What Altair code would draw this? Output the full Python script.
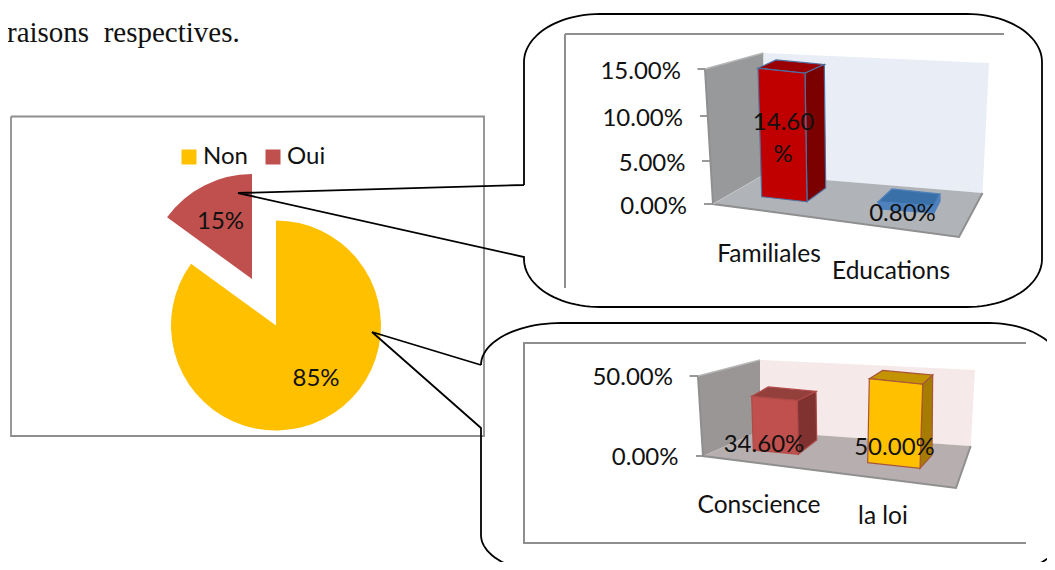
import math
import altair as alt
import pandas as pd

# ---- data ----
pie_categories = ["Non", "Oui"]
pie_values = [85, 15]
pie_labels = ["85%", "15%"]
family_categories = ["Familiales", "Educations"]
family_values = [14.60, 0.80]
reason_categories = ["Conscience", "la loi"]
reason_values = [34.60, 50.00]
family_ticks = ["15.00%", "10.00%", "5.00%", "0.00%"]
reason_ticks = ["50.00%", "0.00%"]
intro_text = "raisons\u00a0\u00a0respectives."

# ---- layout: image pixel space; the page margin is 8px so the canvas spans 8..1047 by 8..562 ----
X0, X1, Y0, Y1 = 8, 1047, 8, 562
XS = alt.Scale(domain=[X0, X1], range=[0, X1 - X0], nice=False, zero=False)
X = alt.X("x:Q", axis=None, scale=XS)
Y = alt.Y("y:Q", axis=None, scale=alt.Scale(domain=[Y1, Y0], range=[Y1 - Y0, 0], nice=False, zero=False))
FONT = "Lato"
FS = 24
INK = "#111111"
GRAY = "#8e8e8e"
layers = []


def polygon(vertices, fill, stroke=None, width=1.2):
    xs = sorted({round(v[0], 3) for v in vertices})
    n = len(vertices)
    rows = []
    for x in xs:
        ys = []
        for i in range(n):
            (x1, y1), (x2, y2) = vertices[i], vertices[(i + 1) % n]
            lo, hi = min(x1, x2), max(x1, x2)
            if lo - 1e-3 <= x <= hi + 1e-3:
                if abs(x2 - x1) < 1e-3:
                    ys += [y1, y2]
                else:
                    ys.append(y1 + (x - x1) * (y2 - y1) / (x2 - x1))
        rows.append({"x": x, "y": min(ys), "y2": max(ys)})
    kw = {"stroke": stroke, "strokeWidth": width} if stroke else {"strokeWidth": 0}
    layers.append(
        alt.Chart(pd.DataFrame(rows))
        .mark_area(fill=fill, **kw)
        .encode(x=X, y=Y, y2="y2:Q")
    )


def polyline(points, color=GRAY, width=2.0, clip=False):
    df = pd.DataFrame([{"x": p[0], "y": p[1], "i": i} for i, p in enumerate(points)])
    layers.append(
        alt.Chart(df)
        .mark_line(color=color, strokeWidth=width, clip=clip, interpolate="linear")
        .encode(x=X, y=Y, order=alt.Order("i:Q"))
    )


def text(label, x, y, align="center", font=FONT, size=FS, color=INK, dy=1.5):
    df = pd.DataFrame([{"x": x, "y": y + dy, "t": label}])
    layers.append(
        alt.Chart(df)
        .mark_text(font=font, fontSize=size, color=color, align=align, baseline="middle")
        .encode(x=X, y=Y, text="t:N")
    )


def corner(cx, cy, rx, ry, a0, a1, steps=24):
    return [
        (cx + rx * math.cos(math.radians(a0 + (a1 - a0) * k / steps)),
         cy + ry * math.sin(math.radians(a0 + (a1 - a0) * k / steps)))
        for k in range(steps + 1)
    ]


def bar(value, bl, br, lean, k, d_tl, d_tr, d_br, front, top, side, stroke):
    tl = (bl[0] + lean[0], bl[1] - k * value)
    tr = (br[0] + lean[1], br[1] - k * value)
    polygon([tl, (tl[0] + d_tl[0], tl[1] + d_tl[1]), (tr[0] + d_tr[0], tr[1] + d_tr[1]), tr], top, stroke)
    polygon([tr, (tr[0] + d_tr[0], tr[1] + d_tr[1]), (br[0] + d_br[0], br[1] + d_br[1]), br], side, stroke)
    polygon([tl, tr, br, bl], front, stroke)


# intro line
text(intro_text, 7, 33, align="left", font="Liberation Serif", size=29, color="#111111", dy=0)

# pie frame
polyline([(11, 116.5), (484, 116.5), (484, 436), (11, 436), (11, 116.5)], width=1.8)

# pie
cum = [sum(pie_values[:i]) for i in range(len(pie_values) + 1)]
pie_df = pd.DataFrame({
    "cat": pie_categories,
    "start": cum[:-1],
    "end": cum[1:],
    "x": [276, 252],
    "y": [325.5, 279],
})
layers.append(
    alt.Chart(pie_df)
    .mark_arc(outerRadius=105)
    .encode(
        x=X,
        y=Y,
        theta=alt.Theta("start:Q", scale=alt.Scale(domain=[0, 100], range=[0, 2 * math.pi])),
        theta2="end:Q",
        color=alt.Color(
            "cat:N",
            scale=alt.Scale(domain=pie_categories, range=["#FFC000", "#C0504D"]),
            legend=alt.Legend(
                orient="none", legendX=169, legendY=137, direction="horizontal", title=None,
                symbolType="square", symbolSize=225, symbolStrokeWidth=0,
                labelFont=FONT, labelFontSize=FS, labelColor=INK, columnPadding=13,
                labelOffset=2,
            ),
        ),
    )
)
text(pie_labels[0], 316, 377.5)
text(pie_labels[1], 220.5, 220)

# upper callout chart
polyline([(565, 34), (1004, 34)])
polyline([(565, 34), (565, 288)])
polygon([(705, 69), (763.5, 53), (763.5, 175), (713, 204)], "#98999b")
polygon([(763.5, 53), (989, 63), (982.5, 193), (763.5, 175)], "#e8edf6")
polygon([(713, 204), (763.5, 175), (982.5, 193), (959, 237)], "#b0b3b8")
polyline([(705, 69), (713, 204), (959, 237), (982.5, 193)], color="#8f8f8f", width=2)
polyline([(705, 69), (763.5, 53)], color="#b5b5b5", width=1.5)
polyline([(713, 204), (763.5, 175)], color="#c4c4c4", width=1)
for a, b in [((697.5, 69), (705, 69)), ((700, 116), (707.5, 116)), ((702, 161), (710, 161)), ((704, 204), (713, 204))]:
    polyline([a, b], width=1.8)
for label, x, y in zip(family_ticks, [681, 683, 685.5, 687], [70, 117, 162.5, 205]):
    text(label, x, y, align="right")
bar(family_values[0], (761.7, 196.7), (807, 201.7), (-3.7, -2), 8.8,
    (18, -8.3), (19.3, -8.7), (18.7, -13.7), "#C00000", "#9b0000", "#7b0000", "#4f6f9f")
bar(family_values[1], (880, 209), (934, 213), (-2, 0), 8.8,
    (14, -13), (6, -12), (6, -12), "#4f81bd", "#3a70a8", "#4f81bd", "#4f81bd")
text(family_categories[0], 769, 253, size=24.5)
text(family_categories[1], 891, 270, size=24.5)
text("14.60", 783.5, 121)
text("%", 783, 153)
text(f"{family_values[1]:.2f}%", 902.5, 212)

# lower callout chart
polyline([(1026, 343), (524, 343), (524, 543), (1026, 543)])
polygon([(698, 376), (760, 360), (760, 431), (703, 456)], "#9a9696")
polygon([(760, 360), (975, 370), (970.7, 446), (760, 431)], "#f5e9e9")
polygon([(703, 456), (760, 431), (970.7, 446), (956, 488)], "#b7afaf")
polyline([(698, 376), (703, 456), (956, 488), (970.7, 446)], color="#8f8f8f", width=2)
polyline([(698, 376), (760, 360)], color="#b5b5b5", width=1.5)
for a, b in [((689.5, 376), (698, 376)), ((696, 456), (703, 456))]:
    polyline([a, b], width=1.8)
for label, x, y in zip(reason_ticks, [673, 678.5], [376.5, 456]):
    text(label, x, y, align="right")
bar(reason_values[0], (753.3, 450), (798.3, 454.3), (-1.6, -1), 1.55,
    (16.6, -9.4), (18.7, -9.3), (18.4, -14.3), "#C0504D", "#933f3c", "#7f3230", "#b04a48")
bar(reason_values[1], (867.7, 462.7), (920, 468.3), (1.6, 2.7), 1.68,
    (13.4, -8.3), (10, -9.3), (12, -13.3), "#FFC000", "#c49300", "#a67c00", "#a8553a")
text(reason_categories[0], 759, 504, size=24.5)
text(reason_categories[1], 883, 515, size=24.5)
text(f"{reason_values[0]:.2f}%", 764, 443)
text(f"{reason_values[1]:.2f}%", 894.5, 446.5)

# callout outlines
c1 = (
    [(524, 185)]
    + corner(600, 62, 76, 48, 180, 270)
    + corner(967, 62, 75, 48, 270, 360)
    + corner(967, 259, 75, 48, 0, 90)
    + corner(600, 259, 76, 48, 90, 180)
    + [(524, 257), (238, 193), (524, 185)]
)
polyline(c1, color="#000000", width=1.8)
c2_top = [(481, 365)] + corner(561, 365, 80, 42, 180, 270) + corner(989, 368, 73, 45, 270, 360)
c2_bot = corner(987, 535, 75, 40, 0, 90) + corner(561, 535, 80, 40, 90, 180)
polyline(c2_top + c2_bot + [(481, 428), (372, 332), (481, 365)], color="#000000", width=1.8, clip=True)

chart = (
    alt.layer(*layers)
    .properties(width=X1 - X0, height=Y1 - Y0, padding=0, autosize=alt.AutoSizeParams(type="none"))
    .configure_view(stroke=None)
)
chart.save("out.html", embed_options={"renderer": "svg", "actions": False})
